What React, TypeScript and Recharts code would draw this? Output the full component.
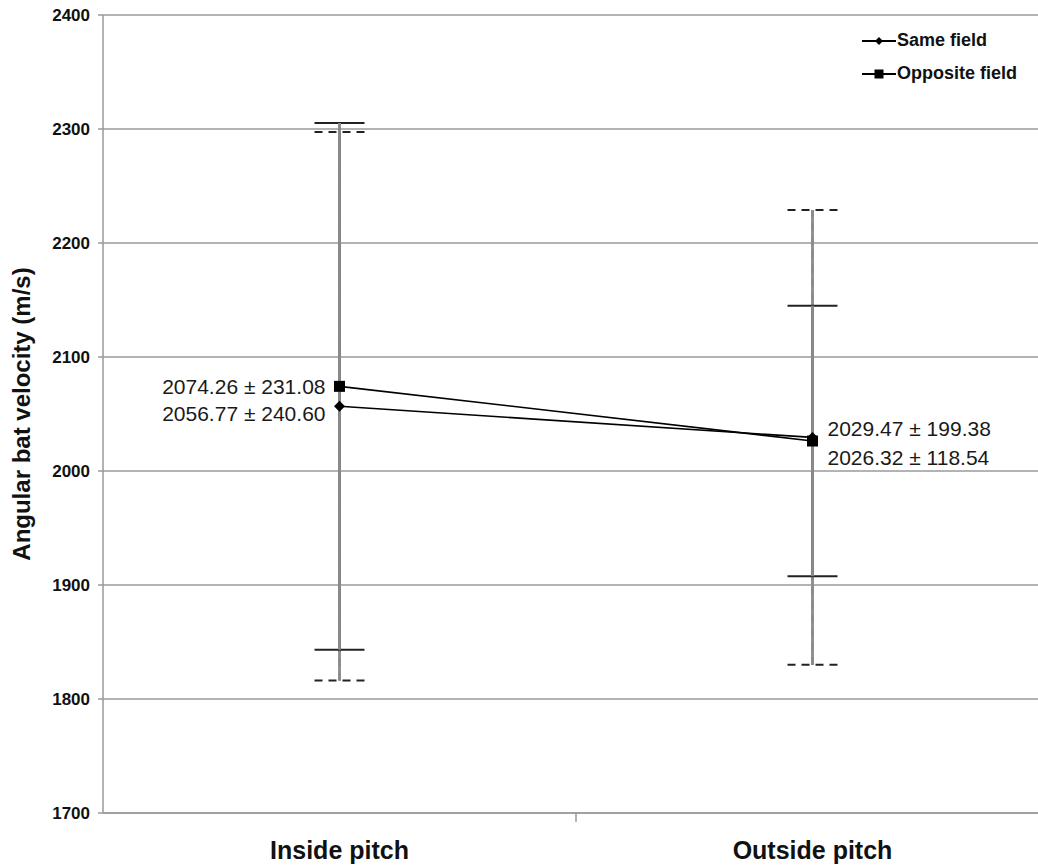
import React from "react";
import { LineChart, Line, XAxis, YAxis, CartesianGrid, ErrorBar, LabelList, Legend, Label } from "recharts";

const categories = ["Inside pitch", "Outside pitch"];
const sameFieldMean = [2056.77, 2029.47];
const sameFieldSD = [240.6, 199.38];
const oppositeFieldMean = [2074.26, 2026.32];
const oppositeFieldSD = [231.08, 118.54];
const yTicks = [1700, 1800, 1900, 2000, 2100, 2200, 2300, 2400];
const seriesOrder = ["same", "opp"];

// category centres sit at i + 0.5, the boundary tick between them at whole numbers
const data = categories.map((name, i) => ({
  pos: i + 0.5,
  name,
  same: sameFieldMean[i],
  sameSD: sameFieldSD[i],
  opp: oppositeFieldMean[i],
  oppSD: oppositeFieldSD[i],
}));
const xTicks = categories.flatMap((_, i) => (i === 0 ? [i + 0.5] : [i, i + 0.5]));

const FONT = "'Liberation Sans', Arial, sans-serif";
const GRID = "#9a9a9a";

const Diamond = ({ cx, cy, half = 5.5 }: any) =>
  cx == null ? null : <path d={`M${cx},${cy - half}L${cx + half},${cy}L${cx},${cy + half}L${cx - half},${cy}Z`} fill="#000" />;

const Square = ({ cx, cy, side = 11 }: any) =>
  cx == null ? null : <rect x={cx - side / 2} y={cy - side / 2} width={side} height={side} fill="#000" />;

const XTick = ({ x, y, payload }: any) => {
  const v = payload.value;
  if (Number.isInteger(v)) {
    return <line x1={x} x2={x} y1={y} y2={y + 9} stroke={GRID} strokeWidth={1.5} />;
  }
  const name = categories[Math.floor(v)];
  return (
    <text x={x} y={y + 37} dy="0.35em" textAnchor="middle" fontSize={25} fontWeight="bold" fill="#111">
      {name}
    </text>
  );
};

const makeLabel = (means: number[], sds: number[], offsets: number[]) => (props: any) => {
  const { x, y, index } = props;
  const left = index === 0;
  return (
    <text
      x={left ? x - 14 : x + 15}
      y={y + offsets[index]}
      dy="0.35em"
      textAnchor={left ? "end" : "start"}
      fontSize={21}
      fill="#1a1a1a"
    >
      {`${means[index].toFixed(2)} ± ${sds[index].toFixed(2)}`}
    </text>
  );
};

const renderLegend = (props: any) => {
  const payload = [...(props.payload || [])].sort(
    (a: any, b: any) => seriesOrder.indexOf(a.dataKey) - seriesOrder.indexOf(b.dataKey)
  );
  return (
    <div>
      {payload.map((entry: any) => (
        <div key={entry.value} style={{ display: "flex", alignItems: "center", height: 33 }}>
          <svg width={34} height={14}>
            <line x1={0} x2={34} y1={7} y2={7} stroke="#000" strokeWidth={2} />
            {entry.dataKey === "same" ? <Diamond cx={17} cy={7} half={4} /> : <Square cx={17} cy={7} side={9} />}
          </svg>
          <span style={{ fontSize: 18, fontWeight: "bold", color: "#111", marginLeft: 1 }}>{entry.value}</span>
        </div>
      ))}
    </div>
  );
};

export default function App() {
  return (
    <div style={{ position: "absolute", left: 0, top: 0, width: 1038, height: 867, overflow: "hidden", background: "#fff", fontFamily: FONT }}>
      <LineChart width={1060} height={867} data={data} margin={{ top: 15, right: 11, bottom: 0, left: 0 }}>
        <CartesianGrid vertical={false} stroke={GRID} strokeWidth={1.5} />
        <XAxis
          dataKey="pos"
          type="number"
          domain={[0, categories.length]}
          ticks={xTicks}
          tick={<XTick />}
          tickLine={false}
          tickSize={0}
          tickMargin={0}
          height={54}
          axisLine={{ stroke: GRID, strokeWidth: 1.5 }}
          interval={0}
        />
        <YAxis
          domain={[1700, 2400]}
          ticks={yTicks}
          allowDataOverflow
          width={103}
          tickSize={5}
          tickMargin={8}
          tick={{ fontSize: 17, fontWeight: "bold", fill: "#111" }}
          tickLine={{ stroke: GRID, strokeWidth: 1.5 }}
          axisLine={{ stroke: GRID, strokeWidth: 1.5 }}
        >
          <Label
            content={(p: any) => {
              const vb = p.viewBox;
              const cx = vb.x + 22;
              const cy = vb.y + vb.height / 2;
              return (
                <text x={cx} y={cy} transform={`rotate(-90 ${cx} ${cy})`} textAnchor="middle" dy="0.35em" fontSize={24} fontWeight="bold" fill="#111">
                  Angular bat velocity (m/s)
                </text>
              );
            }}
          />
        </YAxis>
        <Legend
          layout="vertical"
          verticalAlign="middle"
          align="center"
          content={renderLegend}
          wrapperStyle={{ left: 862, top: 24, width: 190 }}
        />
        <Line
          dataKey="same"
          name="Same field"
          stroke="#000"
          strokeWidth={1.6}
          dot={<Diamond />}
          activeDot={false}
          isAnimationActive={false}
        >
          <ErrorBar dataKey="sameSD" width={25} stroke="#222" strokeWidth={2} strokeDasharray="8 6" isAnimationActive={false} />
          <ErrorBar dataKey="sameSD" width={0} stroke="#8c8c8c" strokeWidth={2.8} isAnimationActive={false} />
          <LabelList dataKey="same" content={makeLabel(sameFieldMean, sameFieldSD, [7, -9])} />
        </Line>
        <Line
          dataKey="opp"
          name="Opposite field"
          stroke="#000"
          strokeWidth={1.6}
          dot={<Square />}
          activeDot={false}
          isAnimationActive={false}
        >
          <ErrorBar dataKey="oppSD" width={25} stroke="#222" strokeWidth={2} isAnimationActive={false} />
          <ErrorBar dataKey="oppSD" width={0} stroke="#8c8c8c" strokeWidth={2.8} isAnimationActive={false} />
          <LabelList dataKey="opp" content={makeLabel(oppositeFieldMean, oppositeFieldSD, [0, 17])} />
        </Line>
      </LineChart>
    </div>
  );
}
